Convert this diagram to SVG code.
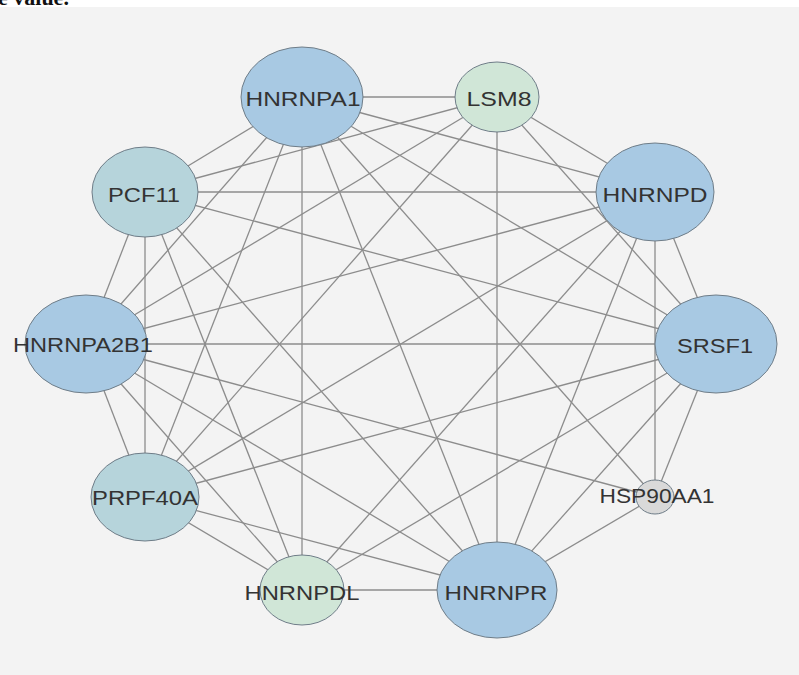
<svg xmlns="http://www.w3.org/2000/svg" width="799" height="675" viewBox="0 0 799 675">
<style>
.bg{fill:#f3f3f3}
.e line{stroke:#8c8c8c;stroke-width:1.3}
.n ellipse{stroke:#6f7d88;stroke-width:1}
.blue{fill:#a8c9e3}
.teal{fill:#b6d4db}
.green{fill:#d0e6d7}
.gray{fill:#d9d9d9}
.n text{font-family:"Liberation Sans",Arial,sans-serif;font-size:20px;fill:#333;text-anchor:middle}
</style>
<rect x="0" y="0" width="799" height="675" fill="#ffffff"/>
<rect class="bg" x="0" y="7" width="799" height="668"/>
<text x="-2" y="5" font-family="Liberation Serif,serif" font-size="22" font-weight="bold" fill="#111">e value.</text>
<g id="edges" class="e">
<line x1="302" y1="97" x2="497" y2="97"/>
<line x1="302" y1="97" x2="145" y2="192"/>
<line x1="302" y1="97" x2="655" y2="192"/>
<line x1="302" y1="97" x2="86" y2="344"/>
<line x1="302" y1="97" x2="716" y2="344"/>
<line x1="302" y1="97" x2="145" y2="497"/>
<line x1="302" y1="97" x2="655" y2="497"/>
<line x1="302" y1="97" x2="302" y2="590"/>
<line x1="302" y1="97" x2="497" y2="590"/>
<line x1="497" y1="97" x2="145" y2="192"/>
<line x1="497" y1="97" x2="655" y2="192"/>
<line x1="497" y1="97" x2="86" y2="344"/>
<line x1="497" y1="97" x2="716" y2="344"/>
<line x1="497" y1="97" x2="145" y2="497"/>
<line x1="497" y1="97" x2="497" y2="590"/>
<line x1="145" y1="192" x2="655" y2="192"/>
<line x1="145" y1="192" x2="86" y2="344"/>
<line x1="145" y1="192" x2="716" y2="344"/>
<line x1="145" y1="192" x2="145" y2="497"/>
<line x1="145" y1="192" x2="302" y2="590"/>
<line x1="145" y1="192" x2="497" y2="590"/>
<line x1="655" y1="192" x2="86" y2="344"/>
<line x1="655" y1="192" x2="716" y2="344"/>
<line x1="655" y1="192" x2="145" y2="497"/>
<line x1="655" y1="192" x2="655" y2="497"/>
<line x1="655" y1="192" x2="302" y2="590"/>
<line x1="655" y1="192" x2="497" y2="590"/>
<line x1="86" y1="344" x2="716" y2="344"/>
<line x1="86" y1="344" x2="145" y2="497"/>
<line x1="86" y1="344" x2="655" y2="497"/>
<line x1="86" y1="344" x2="302" y2="590"/>
<line x1="86" y1="344" x2="497" y2="590"/>
<line x1="716" y1="344" x2="145" y2="497"/>
<line x1="716" y1="344" x2="655" y2="497"/>
<line x1="716" y1="344" x2="302" y2="590"/>
<line x1="716" y1="344" x2="497" y2="590"/>
<line x1="145" y1="497" x2="302" y2="590"/>
<line x1="145" y1="497" x2="497" y2="590"/>
<line x1="655" y1="497" x2="497" y2="590"/>
<line x1="302" y1="590" x2="497" y2="590"/>
</g>
<g id="HNRNPA1" class="n"><ellipse class="blue" cx="302" cy="97" rx="61" ry="50"/><text x="303" y="106" textLength="115" lengthAdjust="spacingAndGlyphs">HNRNPA1</text></g>
<g id="LSM8" class="n"><ellipse class="green" cx="497" cy="97" rx="42" ry="35"/><text x="499" y="106" textLength="65" lengthAdjust="spacingAndGlyphs">LSM8</text></g>
<g id="PCF11" class="n"><ellipse class="teal" cx="145" cy="192" rx="53" ry="45"/><text x="144" y="202" textLength="72" lengthAdjust="spacingAndGlyphs">PCF11</text></g>
<g id="HNRNPD" class="n"><ellipse class="blue" cx="655" cy="192" rx="59" ry="49"/><text x="655" y="202" textLength="105" lengthAdjust="spacingAndGlyphs">HNRNPD</text></g>
<g id="HNRNPA2B1" class="n"><ellipse class="blue" cx="86" cy="344" rx="61" ry="49"/><text x="83" y="352" textLength="140" lengthAdjust="spacingAndGlyphs">HNRNPA2B1</text></g>
<g id="SRSF1" class="n"><ellipse class="blue" cx="716" cy="344" rx="61" ry="49"/><text x="715" y="353" textLength="76" lengthAdjust="spacingAndGlyphs">SRSF1</text></g>
<g id="PRPF40A" class="n"><ellipse class="teal" cx="145" cy="497" rx="54" ry="44"/><text x="145" y="505" textLength="106" lengthAdjust="spacingAndGlyphs">PRPF40A</text></g>
<g id="HSP90AA1" class="n"><ellipse class="gray" cx="655" cy="497" rx="19" ry="17"/><text x="657" y="503" textLength="115" lengthAdjust="spacingAndGlyphs">HSP90AA1</text></g>
<g id="HNRNPDL" class="n"><ellipse class="green" cx="302" cy="590" rx="42" ry="35"/><text x="302" y="600" textLength="115" lengthAdjust="spacingAndGlyphs">HNRNPDL</text></g>
<g id="HNRNPR" class="n"><ellipse class="blue" cx="497" cy="590" rx="60" ry="48"/><text x="496" y="600" textLength="103" lengthAdjust="spacingAndGlyphs">HNRNPR</text></g>
</svg>
